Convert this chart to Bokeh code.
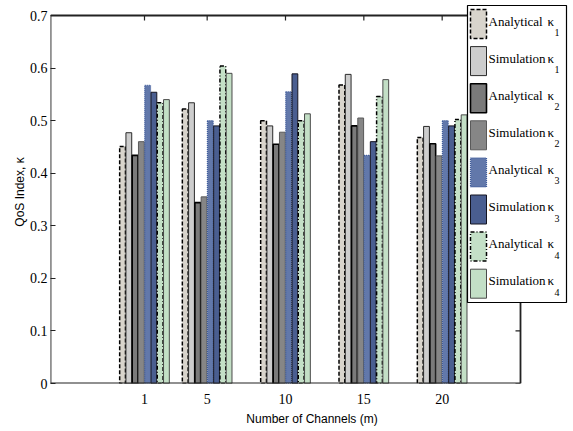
from bokeh.plotting import figure
from bokeh.models import Range1d, FixedTicker
from bokeh.core.properties import value
from bokeh.embed import file_html
from bokeh.resources import INLINE

# ---------------- data ----------------
channels = [1, 5, 10, 15, 20]
analytical_k1 = [0.451, 0.522, 0.500, 0.568, 0.468]
simulation_k1 = [0.477, 0.534, 0.490, 0.588, 0.489]
analytical_k2 = [0.434, 0.344, 0.455, 0.490, 0.456]
simulation_k2 = [0.460, 0.355, 0.478, 0.505, 0.433]
analytical_k3 = [0.567, 0.500, 0.555, 0.434, 0.500]
simulation_k3 = [0.554, 0.490, 0.589, 0.460, 0.490]
analytical_k4 = [0.534, 0.604, 0.500, 0.546, 0.502]
simulation_k4 = [0.540, 0.590, 0.513, 0.578, 0.511]

series_names = ["Analytical", "Simulation", "Analytical", "Simulation",
                "Analytical", "Simulation", "Analytical", "Simulation"]
series_subs = ["1", "1", "2", "2", "3", "3", "4", "4"]
series_values = [analytical_k1, simulation_k1, analytical_k2, simulation_k2,
                 analytical_k3, simulation_k3, analytical_k4, simulation_k4]
y_ticks = [0, 0.1, 0.2, 0.3, 0.4, 0.5, 0.6, 0.7]

# ---------------- styles ----------------
styles = [
    dict(fill_color="#d8d4cc", line_color="#000000", line_dash="4 2", line_width=1.5),
    dict(fill_color="#cdcdcd", line_color="#2a2a2a", line_dash="solid", line_width=1.0),
    dict(fill_color="#7a7a7a", line_color="#000000", line_dash="solid", line_width=1.6),
    dict(fill_color="#868686", line_color="#5a5a5a", line_dash="solid", line_width=1.0),
    dict(fill_color="#6278aa", line_color="#3d5a9a", line_dash="1 1", line_width=1.2),
    dict(fill_color="#4a5e90", line_color="#141420", line_dash="solid", line_width=1.0),
    dict(fill_color="#c4e0c7", line_color="#000000", line_dash="4 2 1 2", line_width=1.5),
    dict(fill_color="#c3dfc6", line_color="#4a4a4a", line_dash="solid", line_width=1.0),
]

# pixel layout helpers (frame: x px 50..573, y px 0..383)
XMIN, XMAX, YMAX = -5, 25, 0.7
def xd(px):
    return XMIN + (px - 50) * (XMAX - XMIN) / 470.0
def yd(py):
    return (383 - py) * YMAX / 368.0

p = figure(width=573, height=431, output_backend="svg", toolbar_location=None,
           x_range=Range1d(XMIN, xd(573)), y_range=Range1d(0, yd(0)),
           min_border_left=50, min_border_right=0, min_border_top=0,
           min_border_bottom=48)
p.outline_line_color = None
p.xgrid.visible = False
p.ygrid.visible = False
p.background_fill_color = "white"
p.border_fill_color = "white"

# bars
n = len(series_values)
step = 0.4
for i, (vals, st) in enumerate(zip(series_values, styles)):
    xs = [c + (i - (n - 1) / 2) * step for c in channels]
    p.vbar(x=xs, top=vals, bottom=0, width=0.37, **st)

# axes box
frame_col = "#222222"
p.segment(x0=[XMIN, XMIN, XMIN, XMAX], y0=[0, 0, YMAX, 0],
          x1=[XMIN, XMAX, XMAX, XMAX], y1=[YMAX, 0, YMAX, YMAX],
          line_color=frame_col, line_width=1.8)
# right-side inner ticks
tlen_x = 5 * (XMAX - XMIN) / 470.0
p.segment(x0=[XMAX - tlen_x] * len(y_ticks), y0=y_ticks,
          x1=[XMAX] * len(y_ticks), y1=y_ticks, line_color=frame_col, line_width=1.2)
# top inner ticks
tlen_y = 5 * YMAX / 368.0
p.segment(x0=channels, y0=[YMAX] * len(channels), x1=channels,
          y1=[YMAX - tlen_y] * len(channels), line_color=frame_col, line_width=1.2)

# axes
p.yaxis.ticker = FixedTicker(ticks=y_ticks)
p.yaxis.major_label_overrides = {0: "0"}
p.yaxis.axis_line_color = None
p.yaxis.major_tick_in = 5
p.yaxis.major_tick_out = 0
p.yaxis.major_tick_line_color = frame_col
p.yaxis.major_tick_line_width = 1.2
p.yaxis.minor_tick_line_color = None
p.yaxis.major_label_standoff = 3
p.yaxis.axis_label = "QoS Index, κ"
p.yaxis.axis_label_standoff = 0

p.xaxis.ticker = FixedTicker(ticks=channels)
p.xaxis.axis_line_color = None
p.xaxis.major_tick_line_color = None
p.xaxis.minor_tick_line_color = None
p.xaxis.major_label_standoff = 4
p.xaxis.axis_label = "Number of Channels (m)"
p.xaxis.axis_label_standoff = 5

for ax in (p.xaxis, p.yaxis):
    ax.major_label_text_font = "Liberation Serif"
    ax.major_label_text_font_size = "14px"
    ax.major_label_text_color = "black"
    ax.axis_label_text_font = "Liberation Sans"
    ax.axis_label_text_font_size = "12px"
    ax.axis_label_text_font_style = "normal"
    ax.axis_label_text_color = "black"

# legend (manual, to allow subscripts)
p.quad(left=[xd(467)], right=[xd(566)], top=[yd(5)], bottom=[yd(302)],
       fill_color="white", line_color="black", line_width=1.2)
serif = value("Liberation Serif")
pitch = 37.1
for i, st in enumerate(styles):
    top = 9 + pitch * i
    p.quad(left=[xd(470)], right=[xd(486)], top=[yd(top)], bottom=[yd(top + 29)], **st)
    p.text(x=[xd(488)], y=[yd(top + 11.5)], text=[series_names[i]],
           text_font=serif, text_font_size="13px",
           text_baseline="alphabetic", text_align="left", text_color="black")
    p.text(x=[xd(547)], y=[yd(top + 11.5)], text=["κ"],
           text_font=serif, text_font_size="13px",
           text_baseline="alphabetic", text_align="left", text_color="black")
    p.text(x=[xd(554)], y=[yd(top + 23)], text=[series_subs[i]],
           text_font=serif, text_font_size="10px",
           text_baseline="alphabetic", text_align="left", text_color="black")

open("out.html", "w").write(file_html(p, INLINE))
